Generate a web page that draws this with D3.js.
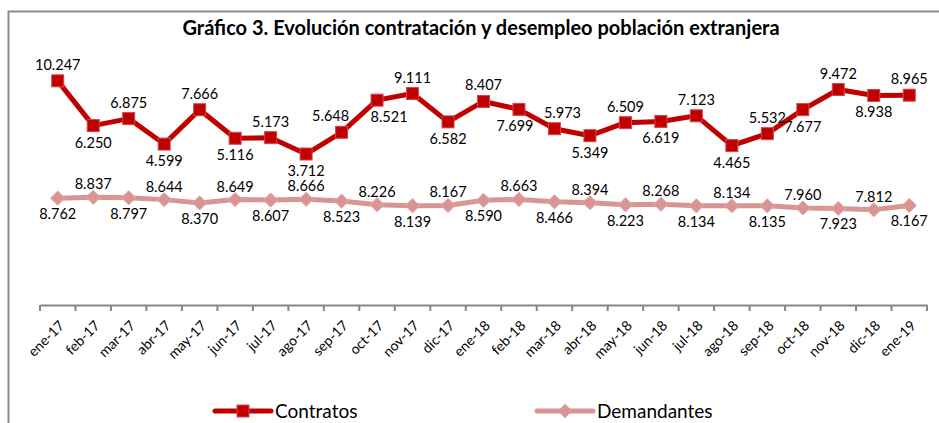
<!DOCTYPE html>
<html>
<head>
<meta charset="utf-8">
<script src="https://cdn.jsdelivr.net/npm/d3@7"></script>
<style>
  body { margin: 0; background: #fff; }
  svg { display: block; font-family: Lato, "Open Sans", sans-serif; }
</style>
</head>
<body>
<svg width="939" height="423"></svg>
<script>
// Gráfico 3 - contratos y demandantes extranjeros, ene-17 a ene-19
const meses = ["ene-17", "feb-17", "mar-17", "abr-17", "may-17", "jun-17", "jul-17", "ago-17", "sep-17", "oct-17", "nov-17", "dic-17",
  "ene-18", "feb-18", "mar-18", "abr-18", "may-18", "jun-18", "jul-18", "ago-18", "sep-18", "oct-18", "nov-18", "dic-18", "ene-19"];
const contratos = [10.247, 6.250, 6.875, 4.599, 7.666, 5.116, 5.173, 3.712, 5.648, 8.521, 9.111, 6.582,
  8.407, 7.699, 5.973, 5.349, 6.509, 6.619, 7.123, 4.465, 5.532, 7.677, 9.472, 8.938, 8.965];
const demandantes = [8.762, 8.837, 8.797, 8.644, 8.370, 8.649, 8.607, 8.666, 8.523, 8.226, 8.139, 8.167,
  8.590, 8.663, 8.466, 8.394, 8.223, 8.268, 8.134, 8.134, 8.135, 7.960, 7.923, 7.812, 8.167];

const svg = d3.select("svg");
const rojo = "#c00000";
const rosa = "#d99594";
const gris = "#868686";

// marco del gráfico
svg.append("path")
  .attr("d", "M8.5,423 V11.5 H939")
  .attr("fill", "none")
  .attr("stroke", "#8c8c8c")
  .attr("stroke-width", 2);

// titulo
svg.append("text")
  .attr("x", 481)
  .attr("y", 35)
  .attr("text-anchor", "middle")
  .style("font-size", "20px")
  .style("font-weight", "700")
  .style("fill", "#000")
  .text("Gráfico 3. Evolución contratación y desempleo población extranjera");

// escalas
const x = d3.scaleBand().domain(meses).range([40, 927]);
const xc = (d) => x(d) + x.bandwidth() / 2;
// eje principal (contratos) y eje secundario (demandantes), ambos ocultos
const y1 = d3.scaleLinear().domain([-9.77, 13.0]).range([305, 50]);
const y2 = d3.scaleLinear().domain([0, 21]).range([305, 49]);

// eje x
const xAxis = svg.append("g")
  .attr("transform", "translate(0,305)")
  .call(d3.axisBottom(x).tickSizeInner(0).tickSizeOuter(0).tickFormat(""));
xAxis.select(".domain").attr("stroke", gris).attr("stroke-width", 2);
// marcas entre categorias
xAxis.selectAll(".sep")
  .data(d3.range(meses.length + 1))
  .enter()
  .append("line")
  .attr("x1", (i) => 40 + i * x.step())
  .attr("x2", (i) => 40 + i * x.step())
  .attr("y1", 0)
  .attr("y2", 6)
  .attr("stroke", gris)
  .attr("stroke-width", 2);

// etiquetas de meses giradas
svg.append("g")
  .selectAll("text")
  .data(meses)
  .enter()
  .append("text")
  .attr("transform", (d) => `translate(${xc(d) + 4},323) rotate(-45)`)
  .attr("text-anchor", "end")
  .attr("dy", "0.35em")
  .style("font-size", "14px")
  .style("fill", "#000")
  .text((d) => d);

// lineas
const line1 = d3.line().x((d, i) => xc(meses[i])).y((d) => y1(d));
const line2 = d3.line().x((d, i) => xc(meses[i])).y((d) => y2(d));

svg.append("path")
  .datum(demandantes)
  .attr("d", line2)
  .attr("fill", "none")
  .attr("stroke", rosa)
  .attr("stroke-width", 5)
  .attr("stroke-linejoin", "round");

svg.append("path")
  .datum(contratos)
  .attr("d", line1)
  .attr("fill", "none")
  .attr("stroke", rojo)
  .attr("stroke-width", 5)
  .attr("stroke-linejoin", "round");

// marcadores
const rombo = d3.symbol().type(d3.symbolDiamond2).size(130);
svg.append("g")
  .selectAll("path")
  .data(demandantes)
  .enter()
  .append("path")
  .attr("d", rombo)
  .attr("transform", (d, i) => `translate(${xc(meses[i])},${y2(d)})`)
  .attr("fill", rosa)
  .attr("stroke", "#e3aaa9")
  .attr("stroke-width", 1);

svg.append("g")
  .selectAll("rect")
  .data(contratos)
  .enter()
  .append("rect")
  .attr("x", (d, i) => xc(meses[i]) - 6)
  .attr("y", (d) => y1(d) - 6)
  .attr("width", 12)
  .attr("height", 12)
  .attr("fill", rojo)
  .attr("stroke", "#d4464a")
  .attr("stroke-width", 1);

// etiquetas de valores
const fmt = (v) => v.toFixed(3);
// algunas etiquetas desplazadas a mano para que no se monten
const ajuste = { 8: -11, 9: 12, 13: -4, 14: 8 };
svg.append("g")
  .selectAll("text")
  .data(contratos)
  .enter()
  .append("text")
  .attr("x", (d, i) => xc(meses[i]) + (ajuste[i] || 0))
  .attr("y", (d, i) => (i % 2 === 0 ? y1(d) - 11 : y1(d) + 22))
  .attr("text-anchor", "middle")
  .style("font-size", "14.5px")
  .style("fill", "#000")
  .text(fmt);

svg.append("g")
  .selectAll("text")
  .data(demandantes)
  .enter()
  .append("text")
  .attr("x", (d, i) => xc(meses[i]))
  .attr("y", (d, i) => (i % 2 === 0 ? y2(d) + 21 : y2(d) - 8))
  .attr("text-anchor", "middle")
  .style("font-size", "14.5px")
  .style("fill", "#000")
  .text(fmt);

// leyenda
const leyenda = [
  { nombre: "Contratos", color: rojo, x: 215 },
  { nombre: "Demandantes", color: rosa, x: 537 },
];
const ly = 411;
const items = svg.selectAll(".ley").data(leyenda).enter().append("g").attr("class", "ley");
items.append("line")
  .attr("x1", (d) => d.x)
  .attr("x2", (d) => d.x + 56)
  .attr("y1", ly)
  .attr("y2", ly)
  .attr("stroke", (d) => d.color)
  .attr("stroke-width", 5)
  .attr("stroke-linecap", "round");
items.each(function (d, i) {
  const g = d3.select(this);
  if (i === 0) {
    g.append("rect")
      .attr("x", d.x + 22)
      .attr("y", ly - 6)
      .attr("width", 12)
      .attr("height", 12)
      .attr("fill", rojo)
      .attr("stroke", "#d4464a");
  } else {
    g.append("path")
      .attr("d", rombo)
      .attr("transform", `translate(${d.x + 28},${ly})`)
      .attr("fill", rosa);
  }
});
items.append("text")
  .attr("x", (d) => d.x + 60)
  .attr("y", ly)
  .attr("dy", "0.35em")
  .style("font-size", "19px")
  .style("fill", "#000")
  .text((d) => d.nombre);
</script>
</body>
</html>
